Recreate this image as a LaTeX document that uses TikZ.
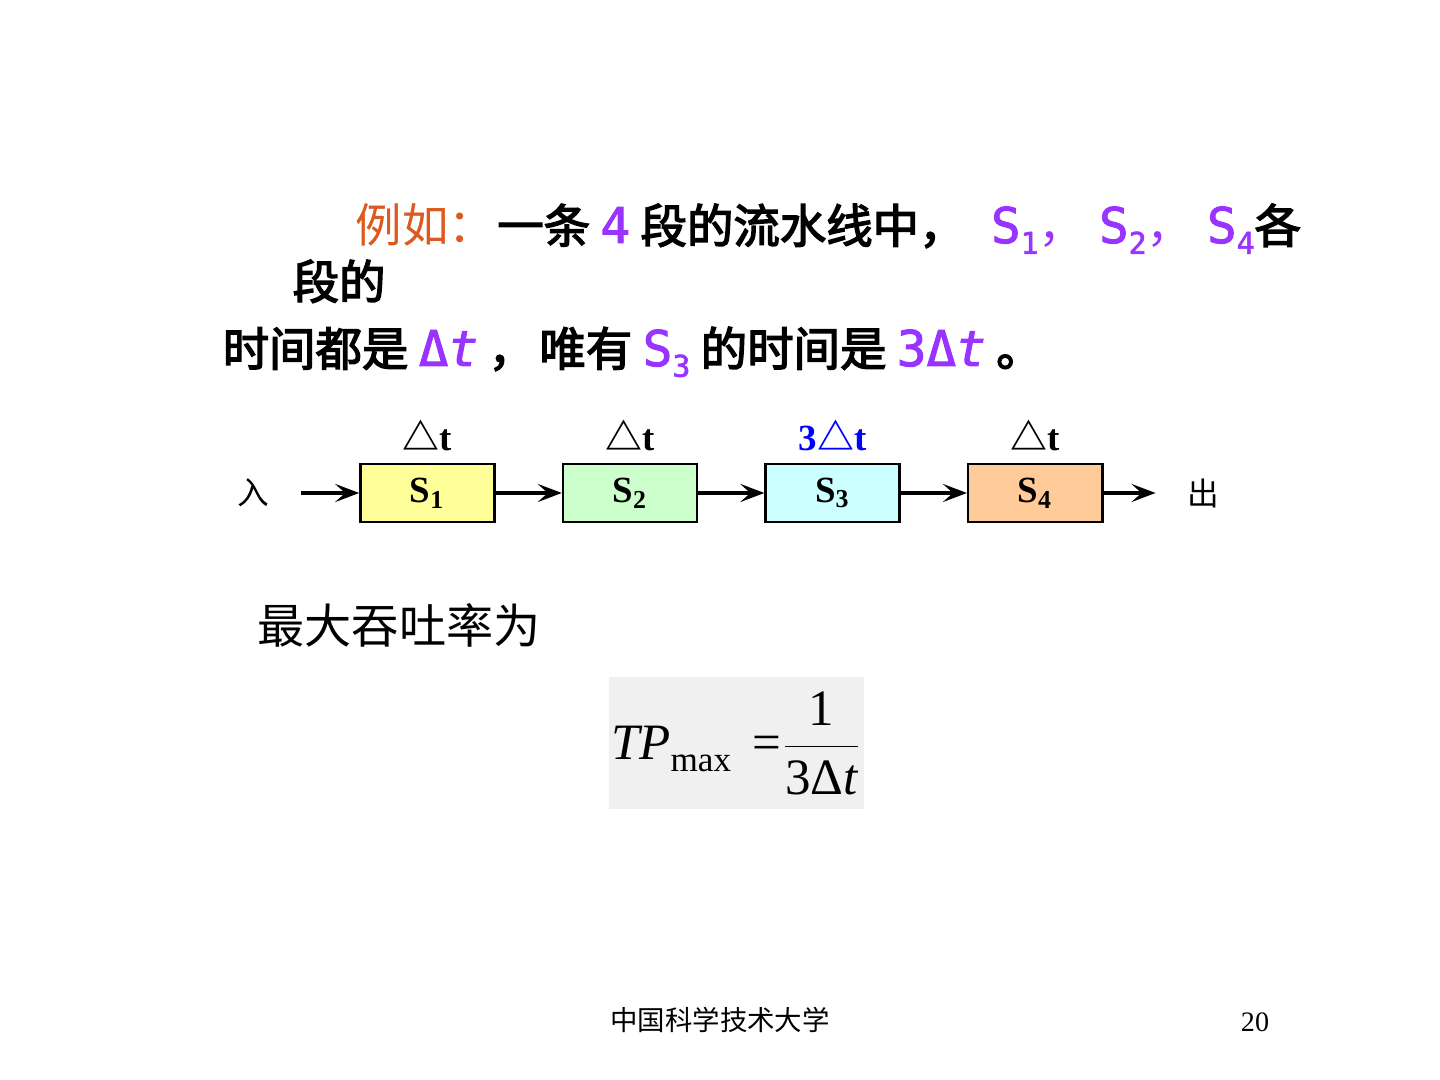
\documentclass[tikz,border=0pt]{standalone}
\usepackage{fontspec}
\setmainfont{Liberation Serif}
\newfontfamily\cjk{Noto Sans CJK SC}
\newfontfamily\hei[FakeBold=3]{Noto Sans CJK SC}
\newfontfamily\latin[FakeBold=2]{DejaVu Sans Mono}
\usetikzlibrary{arrows.meta, positioning}
\definecolor{zise}{HTML}{9933FF}
\definecolor{chengse}{HTML}{DD5A1E}
\definecolor{huise}{HTML}{F0F0F0}
\definecolor{huang}{HTML}{FFFF99}
\definecolor{lv}{HTML}{CCFFCC}
\definecolor{qing}{HTML}{CCFFFF}
\definecolor{ju}{HTML}{FFCC99}
\newcommand\xiabiao[1]{\raisebox{-0.4ex}{\fontsize{8.5}{8}\selectfont #1}}
\newcommand\zi[1]{{\color{zise}\latin\fontsize{14}{16}\selectfont #1}}

\begin{document}
\begin{tikzpicture}[
    x=0.01cm, y=-0.01cm,
    wenzi/.style={anchor=base west, inner sep=0pt, font=\hei\fontsize{13.2}{16}\selectfont},
    jieduan/.style={draw, line width=0.7pt, minimum width=1.34cm, minimum height=0.58cm,
                    inner sep=0pt, font=\fontsize{10.5}{12}\selectfont\bfseries},
    shijian/.style={inner sep=1pt, font=\fontsize{10.5}{12}\selectfont\bfseries},
    duan/.style={font=\cjk\fontsize{9}{10}\selectfont},
    liu/.style={line width=1pt, -{Stealth[length=2.4mm, width=1.8mm, inset=1mm]}}
  ]
    \useasboundingbox (0,0) rectangle (1440,1080);
    % ti mu
    \node[wenzi] (hang1) at (355,243)
      {{\cjk\color{chengse}例如：}\hspace{0.05em}一条 \zi{4} 段的流水线中，\hspace{0.55em}\zi{S\xiabiao{1}}{\color{zise}\cjk ，}\hspace{0.3em}%
       \zi{S\xiabiao{2}}{\color{zise}\cjk ，}\hspace{0.3em}\zi{S\xiabiao{4}}各};
    \node[wenzi] (hang2) at (292,299) {段的};
    \node[wenzi] (hang3) at (222,366)
      {时间都是 \zi{Δ\itshape t} ，\hspace{0.1em}唯有 \zi{S\xiabiao{3}} 的时间是 \zi{3Δ\itshape t} 。};
    % liu shui xian
    \node[jieduan, fill=huang] (s1) at (427.5,493) {S\textsubscript{1}};
    \node[jieduan, fill=lv, right=0.66cm of s1] (s2) {S\textsubscript{2}};
    \node[jieduan, fill=qing, right=0.66cm of s2] (s3) {S\textsubscript{3}};
    \node[jieduan, fill=ju, right=0.66cm of s3] (s4) {S\textsubscript{4}};
    \node[shijian, above=0.08cm of s1] (t1) {{\cjk △}t};
    \node[shijian, above=0.08cm of s2] (t2) {{\cjk △}t};
    \node[shijian, above=0.08cm of s3, text=blue] (t3) {3{\cjk △}t};
    \node[shijian, above=0.08cm of s4] (t4) {{\cjk △}t};
    \node[duan, left=0.78cm of s1] (ru) {入};
    \node[duan, right=0.72cm of s4] (chu) {出};
    \draw[liu, shorten <=0.2cm] (ru) -- (s1);
    \draw[liu] (s1) -- (s2);
    \draw[liu] (s2) -- (s3);
    \draw[liu] (s3) -- (s4);
    \draw[liu, shorten >=0.2cm] (s4) -- (chu);
    % tun tu lv
    \node[anchor=west, inner sep=0pt, font=\cjk\fontsize{13.4}{16}\selectfont] (tuntu) at (257,625)
      {最大吞吐率为};
    \node[fill=huise, minimum width=2.55cm, minimum height=1.32cm, inner sep=0pt,
          font=\fontsize{14.5}{18}\selectfont] (gongshi) at (736.5,743)
      {\itshape TP\/\upshape\raisebox{-0.5ex}{\fontsize{10}{12}\selectfont max}\ \,=%
       \(\displaystyle\frac{\mbox{1}}{\mbox{3Δ\itshape t}}\)};
    % ye jiao
    \node[font=\cjk\fontsize{7.8}{9}\selectfont] (xuexiao) at (720,1020) {中国科学技术大学};
    \node[font=\fontsize{8}{9}\selectfont] (yema) at (1255,1022) {20};
\end{tikzpicture}
\end{document}
